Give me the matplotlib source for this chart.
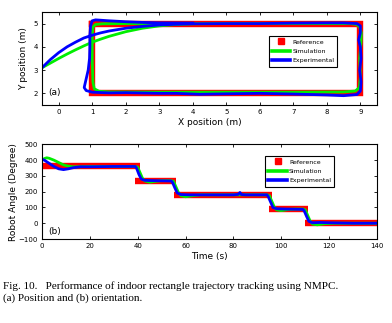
import matplotlib

matplotlib.use('Agg')
import matplotlib.pyplot as plt
from matplotlib.lines import Line2D

# ---- (a) position data ----
ref_x = [1, 9, 9, 1, 1]
ref_y = [5, 5, 2, 2, 5]

sim_x = [-0.5, -0.25, 0.0, 0.25, 0.5, 0.75, 1.0, 1.25, 1.5, 2.0, 2.5, 3.0, 3.5, 4.0, 5.0, 6.0, 7.0, 8.0,
         8.7, 8.9, 8.98, 9.03, 9.02, 8.98, 9.0, 8.97, 8.85, 8.5, 7.0, 5.0, 3.0, 1.5, 1.2, 1.06, 1.02,
         1.0, 1.0, 1.02, 1.1, 1.3, 2.0, 3.0]
sim_y = [3.1, 3.3, 3.5, 3.69, 3.87, 4.04, 4.2, 4.33, 4.45, 4.65, 4.8, 4.9, 4.96, 4.99, 5.0, 5.0, 5.0, 5.0,
         5.0, 4.96, 4.85, 4.6, 4.2, 3.5, 2.7, 2.25, 2.1, 2.06, 2.05, 2.05, 2.05, 2.06, 2.09, 2.2, 2.5,
         3.5, 4.5, 4.85, 4.96, 4.99, 5.0, 5.0]

exp_x = [-0.5, -0.25, 0.0, 0.25, 0.5, 0.75, 1.0, 1.25, 1.5, 2.0, 2.5, 3.0, 3.5, 4.0, 5.0, 6.0, 7.0, 8.0,
         8.5, 8.9, 9.0, 9.0, 8.95, 9.0, 9.02, 8.98, 9.02, 9.0, 8.9, 8.5, 8.0, 7.0, 6.0, 5.0, 4.2, 3.5,
         3.0, 2.0, 1.5, 1.0, 0.82, 0.76, 0.8, 0.88, 0.92, 0.93, 0.93, 0.95, 1.0, 1.1, 1.5, 2.0, 2.5,
         3.0, 4.0]
exp_y = [3.1, 3.45, 3.75, 4.0, 4.2, 4.38, 4.5, 4.6, 4.68, 4.8, 4.88, 4.94, 4.97, 4.99, 5.0, 5.0, 5.02,
         5.03, 5.03, 5.0, 4.9, 4.6, 4.3, 4.0, 3.5, 3.0, 2.5, 2.1, 1.95, 1.9, 1.93, 1.97, 2.0, 1.98, 1.96,
         2.0, 2.0, 2.03, 2.02, 2.05, 2.12, 2.25, 2.5, 3.0, 3.5, 4.0, 4.5, 4.9, 5.12, 5.16, 5.12, 5.08,
         5.05, 5.03, 5.02]

# ---- (b) orientation data ----
ref_t0 = [-1, 39, 55, 95, 110]
ref_t1 = [41, 56, 96, 111, 141]
ref_ang = [360, 270, 180, 90, 0]

sim_t = [0, 1, 2, 3, 5, 7, 9, 11, 13, 15, 20, 30, 39, 40, 41, 42, 43, 45, 47, 50, 54, 55, 56, 57, 58,
         60, 63, 66, 80, 94, 95, 96, 97, 98, 100, 103, 106, 109, 110, 111, 112, 113, 115, 118, 122, 140]
sim_ang = [400, 410, 415, 412, 400, 385, 370, 362, 358, 358, 360, 360, 360, 355, 320, 285, 268, 260,
           265, 270, 270, 265, 230, 195, 175, 168, 175, 180, 180, 180, 175, 140, 105, 85, 80, 88, 90,
           90, 85, 50, 15, -5, -10, -3, 0, 0]

exp_t = [0, 1, 3, 5, 7, 9, 11, 13, 16, 20, 30, 39, 39.5, 40.5, 41.5, 43, 47, 54, 54.5, 55.5, 56.5, 58,
         62, 80, 82, 82.7, 83.3, 85, 94, 94.5, 95.5, 96.5, 98, 102, 109, 109.5, 110.5, 111.5, 113, 116,
         120, 130, 140]
exp_ang = [405, 400, 380, 360, 345, 340, 345, 352, 358, 358, 360, 360, 350, 310, 280, 272, 270, 268,
           260, 225, 192, 182, 180, 180, 183, 195, 182, 180, 180, 170, 135, 100, 92, 90, 88, 80, 45,
           12, 3, 5, 3, 0, 0]

plt.rcParams['font.family'] = ['DejaVu Sans']
plt.rcParams['xtick.direction'] = 'in'
plt.rcParams['ytick.direction'] = 'in'
plt.rcParams['xtick.top'] = True
plt.rcParams['ytick.right'] = True

RED = '#ff0000'
GREEN = '#00ee00'
BLUE = '#0000ff'

fig = plt.figure(figsize=(3.92, 3.23), dpi=100)
ax1 = fig.add_axes([0.107, 0.675, 0.855, 0.288])
ax2 = fig.add_axes([0.107, 0.260, 0.855, 0.293])

handles = [Line2D([], [], color=RED, marker='s', linestyle='none', markersize=3.8),
           Line2D([], [], color=GREEN, lw=2.6),
           Line2D([], [], color=BLUE, lw=2.6)]
labels = ['Reference', 'Simulation', 'Experimental']

# (a)
ax1.plot(ref_x, ref_y, color=RED, lw=4.6, solid_joinstyle='miter', solid_capstyle='projecting')
ax1.plot(sim_x, sim_y, color=GREEN, lw=2.0)
ax1.plot(exp_x, exp_y, color=BLUE, lw=2.0)
ax1.set_xlim(-0.5, 9.5)
ax1.set_ylim(1.5, 5.5)
ax1.set_xticks(range(0, 10))
ax1.set_yticks([2, 3, 4, 5])
ax1.set_xlabel('X position (m)', fontsize=6.5, labelpad=2)
ax1.set_ylabel('Y position (m)', fontsize=6.5, labelpad=4)
ax1.text(-0.3, 2.05, '(a)', fontsize=6.5, va='center')
ax1.legend(handles, labels, loc='upper left', bbox_to_anchor=(0.667, 0.775), fontsize=4.5,
           fancybox=False, edgecolor='black', framealpha=1, handlelength=3.0,
           borderpad=0.5, labelspacing=0.65, handletextpad=0.3).get_frame().set_linewidth(0.8)

# (b)
for t0, t1, a in zip(ref_t0, ref_t1, ref_ang):
    ax2.plot([t0, t1], [a, a], color=RED, lw=4.6, solid_capstyle='butt')
ax2.plot(sim_t, sim_ang, color=GREEN, lw=2.0)
ax2.plot(exp_t, exp_ang, color=BLUE, lw=2.0)
ax2.set_xlim(0, 140)
ax2.set_ylim(-100, 500)
ax2.set_xticks(range(0, 141, 20))
ax2.set_yticks(range(-100, 501, 100))
ax2.set_xlabel('Time (s)', fontsize=6.5, labelpad=2)
ax2.set_ylabel('Robot Angle (Degree)', fontsize=6.5, labelpad=0.5)
ax2.text(2.5, -55, '(b)', fontsize=6.5, va='center')
ax2.legend(handles, labels, loc='upper left', bbox_to_anchor=(0.657, 0.91), fontsize=4.5,
           fancybox=False, edgecolor='black', framealpha=1, handlelength=3.0,
           borderpad=0.5, labelspacing=0.65, handletextpad=0.3).get_frame().set_linewidth(0.8)

for ax in (ax1, ax2):
    ax.tick_params(labelsize=5, length=2.5, width=0.6, pad=3)
    for s in ax.spines.values():
        s.set_linewidth(0.8)

fig.text(0.008, 1 - 289 / 323, 'Fig. 10.   Performance of indoor rectangle trajectory tracking using NMPC.',
         family='Liberation Serif', fontsize=8.0, va='baseline')
fig.text(0.008, 1 - 300.5 / 323, '(a) Position and (b) orientation.',
         family='Liberation Serif', fontsize=8.0, va='baseline')

fig.savefig('out.png', dpi=100)
